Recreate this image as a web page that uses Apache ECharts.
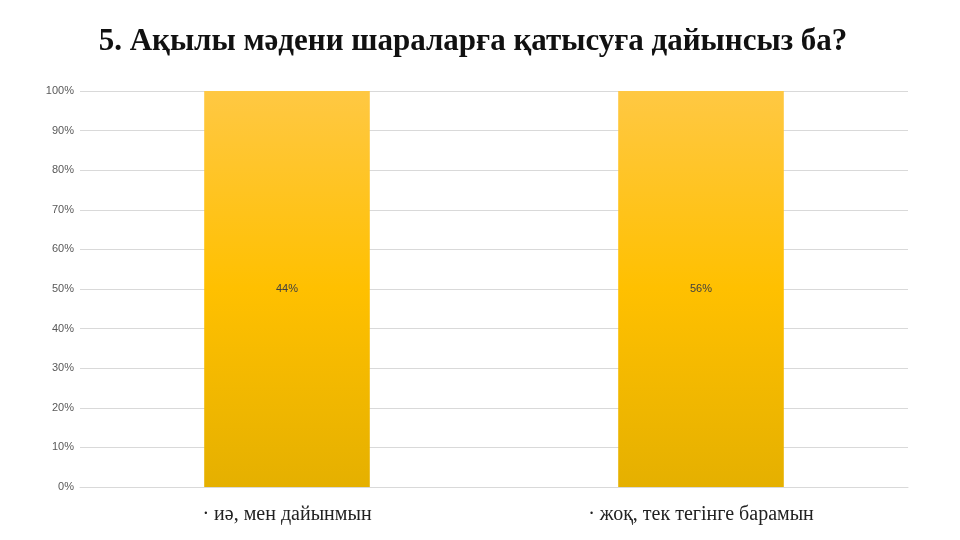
<!DOCTYPE html>
<html>
<head>
<meta charset="utf-8">
<script src="https://cdn.jsdelivr.net/npm/echarts@6/dist/echarts.min.js"></script>
<style>
html,body{margin:0;padding:0;background:#fff;}
#chart{width:960px;height:540px;}
</style>
</head>
<body>
<div id="chart"></div>
<script>
const titleText = '5. Ақылы мәдени шараларға қатысуға дайынсыз ба?';
const categories = ['· иә, мен дайынмын', '· жоқ, тек тегінге барамын'];
const values = [44, 56];
const yTicks = [0, 10, 20, 30, 40, 50, 60, 70, 80, 90, 100];

// 100% stacked column: each bar is its value's share of its own stack total
const stackTotals = values.slice();
const shares = values.map((v, i) => v / stackTotals[i] * 100);

const chart = echarts.init(document.getElementById('chart'), null, {renderer: 'canvas'});
chart.setOption({
  animation: false,
  backgroundColor: '#ffffff',
  title: {
    text: titleText,
    left: 468,
    textAlign: 'center',
    top: 21,
    textStyle: {
      fontFamily: 'Liberation Serif',
      fontWeight: 'bold',
      fontSize: 31,
      color: '#111111'
    }
  },
  grid: {left: 80, right: 52, top: 91, bottom: 53, containLabel: false},
  xAxis: {
    type: 'category',
    data: categories,
    axisLine: {show: true, lineStyle: {color: '#d9d9d9', width: 1}},
    axisTick: {show: false},
    axisLabel: {
      fontFamily: 'Liberation Serif',
      fontSize: 20,
      color: '#222222',
      margin: 18
    }
  },
  yAxis: {
    type: 'value',
    min: yTicks[0],
    max: yTicks[yTicks.length - 1],
    interval: yTicks[1] - yTicks[0],
    axisLine: {show: false},
    axisTick: {show: false},
    splitLine: {lineStyle: {color: '#d9d9d9', width: 1}},
    axisLabel: {
      formatter: '{value}%',
      fontFamily: 'Liberation Sans, sans-serif',
      fontSize: 11,
      color: '#595959',
      margin: 6
    }
  },
  series: [{
    type: 'bar',
    stack: 'total',
    barWidth: '40%',
    data: shares,
    itemStyle: {
      color: new echarts.graphic.LinearGradient(0, 0, 0, 1, [
        {offset: 0, color: '#FFC843'},
        {offset: 0.5, color: '#FFC000'},
        {offset: 1, color: '#E5B000'}
      ])
    },
    label: {
      show: true,
      position: 'inside',
      formatter: p => values[p.dataIndex] + '%',
      fontFamily: 'Liberation Sans, sans-serif',
      fontSize: 11,
      color: '#404040'
    }
  }]
});
</script>
</body>
</html>
